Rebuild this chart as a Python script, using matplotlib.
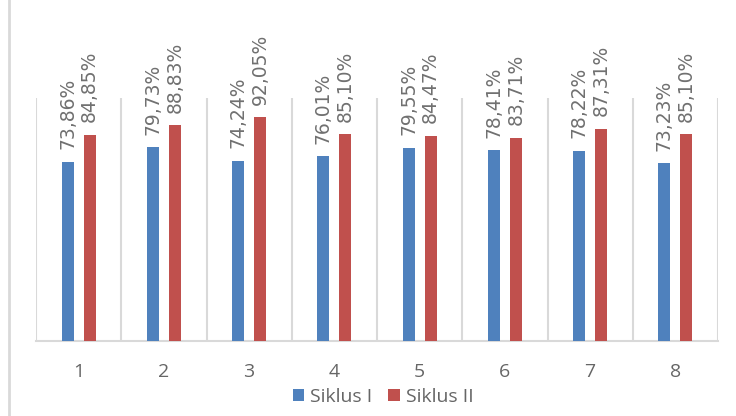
import matplotlib
matplotlib.use("Agg")
import matplotlib.pyplot as plt
from matplotlib.lines import Line2D
import numpy as np

categories = ["1", "2", "3", "4", "5", "6", "7", "8"]
siklus1 = [73.86, 79.73, 74.24, 76.01, 79.55, 78.41, 78.22, 73.23]
siklus2 = [84.85, 88.83, 92.05, 85.10, 84.47, 83.71, 87.31, 85.10]
series_names = ["Siklus I", "Siklus II"]

plt.rcParams['font.family'] = ['Open Sans', 'DejaVu Sans']
text_color = '#666666'
grid_color = '#D9D9D9'

fig = plt.figure(figsize=(7.36, 4.16), dpi=100)
ax = fig.add_axes([36/736, (416-341)/416, (718-36)/736, (341-98)/416])

x = np.arange(1, len(categories) + 1)
w = 0.14
off = 0.13
b1 = ax.bar(x - off, siklus1, w, color='#4F81BD', label=series_names[0], zorder=3)
b2 = ax.bar(x + off, siklus2, w, color='#C0504D', label=series_names[1], zorder=3)

for bars, vals in ((b1, siklus1), (b2, siklus2)):
    for rect, v in zip(bars, vals):
        ax.annotate(f"{v:.2f}%".replace('.', ','),
                    xy=(rect.get_x() + rect.get_width()/2, rect.get_height()),
                    xytext=(0, 9), textcoords='offset points',
                    rotation=90, ha='center', va='bottom',
                    fontsize=13.5, color='#707070', annotation_clip=False,
                    family=['DejaVu Sans'])

ax.set_xlim(0.5, len(categories) + 0.5)
ax.set_ylim(0, 100)
ax.set_xticks(x)
ax.set_xticklabels(categories, fontsize=14, color=text_color)
ax.set_xticks(np.arange(0.5, len(categories) + 1, 1), minor=True)
ax.tick_params(axis='x', which='both', length=0, pad=16)
ax.set_yticks([])
ax.grid(which='minor', axis='x', color=grid_color, lw=1.5, zorder=0)
for s in ('left', 'right', 'top'):
    ax.spines[s].set_visible(False)
ax.spines['bottom'].set_color(grid_color)
ax.spines['bottom'].set_linewidth(1.5)

leg = fig.legend(handles=[b1, b2], labels=series_names, loc='center',
                 bbox_to_anchor=(383/736, 1 - 397/416), ncol=2, frameon=False,
                 fontsize=14, handlelength=0.6, handleheight=0.6,
                 handletextpad=0.3, columnspacing=0.8)
for t in leg.get_texts():
    t.set_color(text_color)

fig.add_artist(Line2D([9/736, 9/736], [0, 1], color=grid_color, lw=2))

fig.savefig('out.png', dpi=100)
